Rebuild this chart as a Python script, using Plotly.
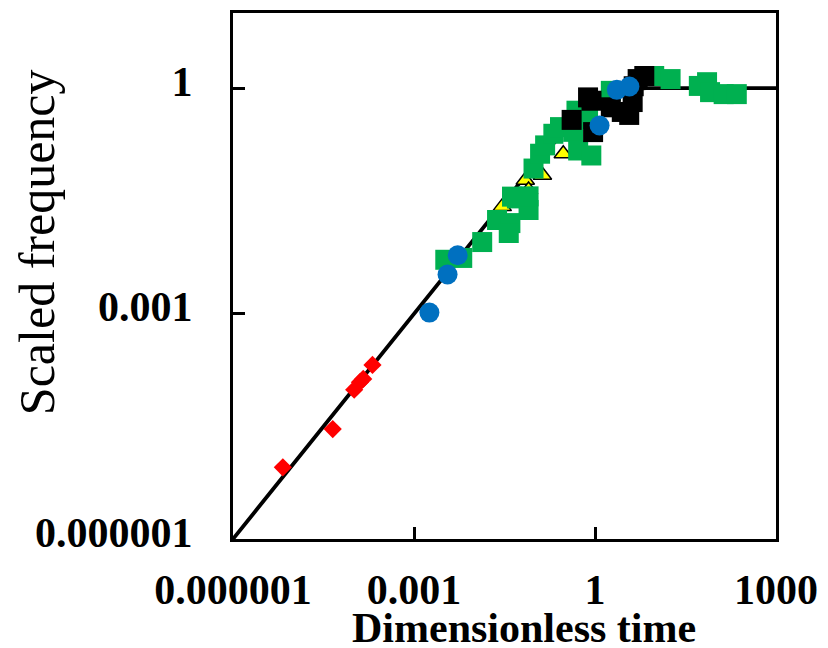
import plotly.graph_objects as go

# Model curve: scaled frequency vs dimensionless time
curve_t = [1e-6, 1e-3, 0.01, 0.03, 0.1, 0.2, 0.3, 0.5, 0.7, 1.0, 1.5, 2.0, 3.0, 5.0, 7.0, 10.0, 1000.0]
curve_f = [1e-6, 1e-3, 0.00995, 0.0296, 0.095, 0.181, 0.259, 0.393, 0.503, 0.632, 0.777, 0.865, 0.950, 0.993, 0.999, 1.0, 1.0]

# Red diamonds
red_t = [6.7e-6, 4.5e-5, 1.02e-4, 1.27e-4, 1.44e-4, 2.05e-4]
red_f = [9.0e-6, 2.9e-5, 9.7e-5, 1.22e-4, 1.35e-4, 2.07e-4]

# Yellow triangles
yel_t = [0.029, 0.0699, 0.0792, 0.1345, 0.298]
yel_f = [0.0265, 0.0596, 0.044, 0.0693, 0.134]

# Green squares
grn_t = [3.3e-3, 6.3e-3, 0.0135, 0.0238, 0.0396, 0.0372, 0.0421, 0.0508, 0.0792, 0.0792,
         0.0957, 0.123, 0.149, 0.204, 0.263, 0.435, 0.526, 0.869, 0.493, 0.767,
         1.83, 9.58, 17.9, 52.6, 72.0, 80.7, 135.6, 224.0]
grn_f = [5.2e-3, 5.5e-3, 8.95e-3, 0.0176, 0.0160, 0.0118, 0.036, 0.0341, 0.0239, 0.0363,
         0.0851, 0.134, 0.173, 0.247, 0.303, 0.262, 0.148, 0.127, 0.501, 0.389,
         0.92, 1.45, 1.32, 1.07, 1.2, 0.885, 0.833, 0.833]

# Black squares
blk_t = [0.41, 0.767, 0.875, 0.93, 1.83, 2.78, 3.69, 4.21, 4.38, 5.09, 6.56]
blk_f = [0.378, 0.753, 0.68, 0.26, 0.556, 0.482, 0.44, 0.653, 1.06, 1.32, 1.45]

# Blue circles
blu_t = [1.80e-3, 3.6e-3, 5.3e-3, 1.19, 2.30, 3.72]
blu_f = [1.03e-3, 3.31e-3, 5.97e-3, 0.318, 0.95, 1.05]

tick_vals = [1e-6, 1e-3, 1, 1000]
tick_text = ["0.000001", "0.001", "1", "1000"]
ytick_vals = [1e-6, 1e-3, 1]
ytick_text = ["0.000001", "0.001", "1"]

serif = "Liberation Serif, Times New Roman, serif"

fig = go.Figure()
fig.add_trace(go.Scatter(x=curve_t, y=curve_f, mode="lines",
                         line=dict(color="black", width=3.8), hoverinfo="skip"))
fig.add_trace(go.Scatter(x=yel_t, y=yel_f, mode="markers",
                         marker=dict(symbol="triangle-up", size=16, color="#ffff00",
                                     line=dict(color="black", width=1.5))))
fig.add_trace(go.Scatter(x=grn_t, y=grn_f, mode="markers",
                         marker=dict(symbol="square", size=20, color="#00b050",
                                     line=dict(width=0))))
fig.add_trace(go.Scatter(x=blk_t, y=blk_f, mode="markers",
                         marker=dict(symbol="square", size=20, color="black",
                                     line=dict(width=0))))
fig.add_trace(go.Scatter(x=blu_t, y=blu_f, mode="markers",
                         marker=dict(symbol="circle", size=20, color="#0070c0",
                                     line=dict(width=0))))
fig.add_trace(go.Scatter(x=red_t, y=red_f, mode="markers",
                         marker=dict(symbol="diamond", size=14, color="#ff0000",
                                     line=dict(width=0))))

axis_common = dict(
    type="log", showgrid=False, zeroline=False,
    showline=True, linecolor="black", linewidth=3, mirror=True,
    ticks="inside", ticklen=12, tickwidth=3, tickcolor="black",
    tickfont=dict(family=serif, size=42, color="black", weight="bold"),
)

fig.update_layout(
    width=828, height=648,
    margin=dict(l=233, r=48, t=10, b=109),
    paper_bgcolor="white", plot_bgcolor="white",
    showlegend=False,
    xaxis=dict(range=[-6, 3], tickvals=tick_vals, ticktext=tick_text,
               ticklabelstandoff=12, **axis_common),
    yaxis=dict(range=[-6, 1], tickvals=ytick_vals, ticktext=ytick_text,
               ticklabelstandoff=29, ticklabelshift=-7, **axis_common),
    annotations=[
        dict(text="Dimensionless time", xref="paper", yref="paper",
             x=(526 - 233) / 547, y=-(629 - 539) / 529, xanchor="center", yanchor="middle",
             showarrow=False,
             font=dict(family=serif, size=42, color="black", weight="bold")),
        dict(text="Scaled frequency", xref="paper", yref="paper",
             x=-(233 - 35) / 547, y=(539 - 240) / 529, xanchor="center", yanchor="middle",
             textangle=-90, showarrow=False,
             font=dict(family=serif, size=50, color="black")),
    ],
)

fig.write_html("out.html")
